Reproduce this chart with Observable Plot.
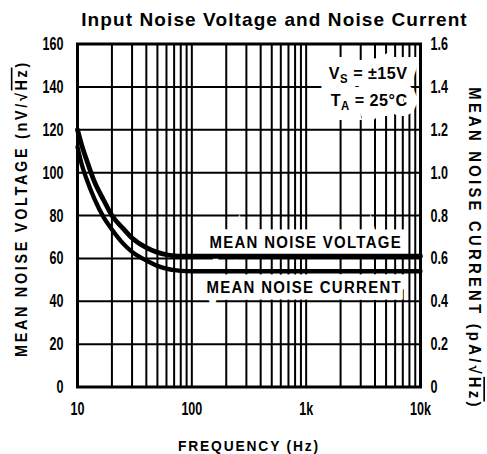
<!DOCTYPE html>
<html>
<head>
<meta charset="utf-8">
<script src="https://cdn.jsdelivr.net/npm/d3@7"></script>
<script src="https://cdn.jsdelivr.net/npm/@observablehq/plot@0.6"></script>
<style>
  body { margin: 0; background: #fff; }
  #wrap { position: relative; width: 487px; height: 454px; }
  #title { position: absolute; left: 0; top: 9px; width: 487px; padding-left: 62px; box-sizing: border-box;
    text-align: center; font: bold 19px "Liberation Sans", Arial, sans-serif; letter-spacing: 1.1px; color: #000; white-space: nowrap; }
</style>
</head>
<body>
<div id="wrap">
<div id="chart"></div>
<div id="title"></div>
</div>
<script>
const titleText = "Input Noise Voltage and Noise Current";
const xLabel = "FREQUENCY (Hz)";
const yLabelLeft = "MEAN NOISE VOLTAGE (nV/\u221AHz)";
const yLabelRight = "MEAN NOISE CURRENT (pA/\u221AHz)";

// frequency grid (log) and value grid
const xGrid = [10,20,30,40,50,60,70,80,90,100,200,300,400,500,600,700,800,900,1000,2000,3000,4000,5000,6000,7000,8000,9000,10000];
const yGrid = [0,20,40,60,80,100,120,140,160];
const xTickValues = [10, 100, 1000, 10000];
const xTickLabels = ["10", "100", "1k", "10k"];
const yTickLabelsLeft = ["0","20","40","60","80","100","120","140","160"];
const yTickLabelsRight = ["0","0.2","0.4","0.6","0.8","1.0","1.2","1.4","1.6"];

// mean noise voltage (nV/rtHz)
const voltFreq = [10, 11, 12, 14, 17, 20, 25, 30, 40, 50, 60, 70, 80, 100, 1000, 10000];
const voltVals = [120, 112, 106, 96, 87, 80, 74, 69.5, 65, 62.8, 61.7, 61.2, 61, 61, 61, 61];
// mean noise current (pA/rtHz, right axis; drawn x100 on left scale)
const currFreq = [10, 11, 12, 14, 17, 20, 25, 30, 40, 50, 60, 70, 80, 100, 1000, 10000];
const currVals = [1.12, 1.03, 0.97, 0.88, 0.79, 0.735, 0.67, 0.63, 0.59, 0.565, 0.552, 0.545, 0.542, 0.54, 0.54, 0.54];

const legendLabels = [
  {text: "MEAN NOISE VOLTAGE", x: 6900, y: 67.6},
  {text: "MEAN NOISE CURRENT", x: 6900, y: 46.6}
];
const condText = [
  {text: "VS = \u00B115V", x: 7700, y: 146.4},
  {text: "TA = 25\u00B0C", x: 7700, y: 133.8}
];

document.getElementById("title").textContent = titleText;

const volt = voltFreq.map((f, i) => ({f, v: voltVals[i]}));
const curr = currFreq.map((f, i) => ({f, v: currVals[i] * 100}));

const ff = "\"Liberation Sans\", Arial, Helvetica, sans-serif";

const chart = Plot.plot({
  width: 487,
  height: 454,
  marginTop: 43.5,
  marginBottom: 67.5,
  marginLeft: 77,
  marginRight: 67,
  x: {type: "log", domain: [10, 10000], axis: null},
  y: {domain: [0, 160], axis: null},
  style: {background: "#fff", color: "#000"},
  marks: [
    Plot.ruleX(xGrid, {x: d => d, stroke: "#000", strokeWidth: 2}),
    Plot.ruleY(yGrid, {y: d => d, stroke: "#000", strokeWidth: 2}),
    Plot.text(legendLabels, {x: "x", y: "y", text: "text", textAnchor: "end", fontFamily: ff, fontWeight: "bold", fontSize: 17, fill: "#000", stroke: "#fff", strokeWidth: 13, strokeLinejoin: "miter"}),
    // white backing for the condition box
    Plot.text(condText, {x: "x", y: "y", text: "text", textAnchor: "end", fontFamily: ff, fontWeight: "bold", fontSize: 17, fill: "#fff", stroke: "#fff", strokeWidth: 20, strokeLinejoin: "miter"}),
    Plot.text(condText, {x: "x", y: "y", text: "text", textAnchor: "end", fontFamily: ff, fontWeight: "bold", fontSize: 17, fill: "#000"}),
    Plot.line(volt, {x: "f", y: "v", stroke: "#000", strokeWidth: 4.8, curve: "monotone-x"}),
    Plot.line(curr, {x: "f", y: "v", stroke: "#000", strokeWidth: 4.3, curve: "monotone-x"}),
    Plot.frame({stroke: "#000", strokeWidth: 3}),
    Plot.text(yGrid, {y: d => d, text: (d, i) => yTickLabelsLeft[i], frameAnchor: "left", textAnchor: "end", dx: -14, fontFamily: ff, fontWeight: "bold", fontSize: 19, fill: "#000"}),
    Plot.text(yGrid, {y: d => d, text: (d, i) => yTickLabelsRight[i], frameAnchor: "right", textAnchor: "start", dx: 10, fontFamily: ff, fontWeight: "bold", fontSize: 19, fill: "#000"}),
    Plot.text(xTickValues, {x: d => d, text: (d, i) => xTickLabels[i], frameAnchor: "bottom", dy: 28, fontFamily: ff, fontWeight: "bold", fontSize: 19, fill: "#000"}),
    Plot.text([xLabel], {text: d => d, frameAnchor: "bottom", textAnchor: "middle", dy: 64, fontFamily: ff, fontWeight: "bold", fontSize: 15, fill: "#000"}),
    Plot.text([yLabelLeft], {text: d => d, frameAnchor: "left", textAnchor: "middle", rotate: -90, dx: -56, dy: -7, fontFamily: ff, fontWeight: "bold", fontSize: 16, fill: "#000"}),
    Plot.text([yLabelRight], {text: d => d, frameAnchor: "right", textAnchor: "middle", rotate: 90, dx: 54, dy: 33, fontFamily: ff, fontWeight: "bold", fontSize: 16.5, fill: "#000"})
  ]
});
document.getElementById("chart").appendChild(chart);

// horizontal condensing of a text element around its own anchor
function condense(el, s) {
  const sel = d3.select(el);
  const tr = sel.attr("transform") || "";
  const x = parseFloat(sel.attr("x")) || 0;
  sel.attr("transform", `${tr} translate(${x},0) scale(${s},1) translate(${-x},0)`);
}

d3.select(chart).selectAll("text").each(function() {
  const t = this.textContent;
  const sel = d3.select(this);
  if (t === condText[0].text || t === condText[1].text) {
    const main = t.slice(0, 1), sub = t.slice(1, 2), rest = t.slice(2);
    sel.text(null);
    sel.append("tspan").text(main);
    sel.append("tspan").attr("font-size", 12).attr("dy", 4).text(sub);
    sel.append("tspan").attr("dy", -4).text(rest);
    sel.attr("letter-spacing", 0.5);
    condense(this, 0.95);
  } else if (t === yLabelLeft || t === yLabelRight) {
    const k = t.indexOf("\u221A");
    sel.text(null);
    sel.append("tspan").text(t.slice(0, k + 1));
    sel.append("tspan").attr("text-decoration", "overline").text("Hz");
    sel.append("tspan").text(")");
    sel.attr("letter-spacing", t === yLabelLeft ? 3 : 3.6);
    condense(this, 0.9);
  } else if (t === xLabel) {
    sel.attr("letter-spacing", 2);
    condense(this, 0.92);
  } else if (t === legendLabels[0].text || t === legendLabels[1].text) {
    sel.attr("letter-spacing", 1.5);
    condense(this, 0.88);
  } else if (yTickLabelsLeft.includes(t) || yTickLabelsRight.includes(t) || xTickLabels.includes(t)) {
    condense(this, 0.66);
  }
});
</script>
</body>
</html>
